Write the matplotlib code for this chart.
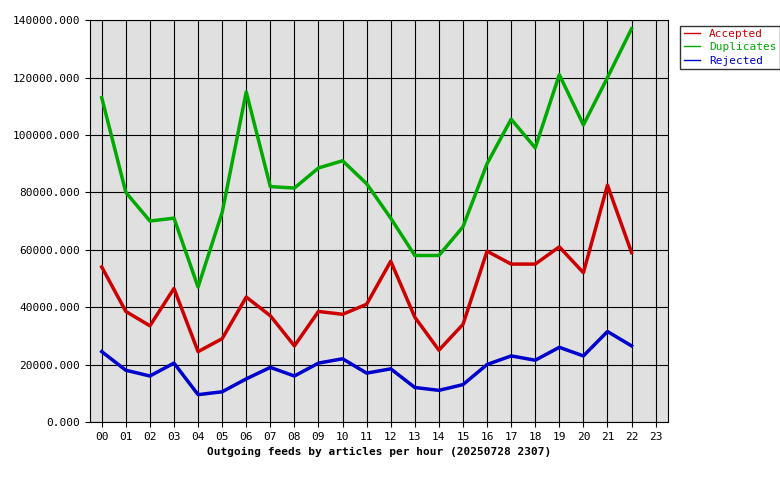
import matplotlib.pyplot as plt

hours = ['%02d' % h for h in range(24)]
duplicates = [113000, 80000, 70000, 71000, 47000, 73000, 115000, 82000, 81500, 88500, 91000, 83000,
              71000, 58000, 58000, 68000, 90000, 105500, 95500, 121000, 103500, 120000, 137000]
accepted = [54000, 38500, 33500, 46500, 24500, 29000, 43500, 37000, 26500, 38500, 37500, 41000,
            56000, 36500, 25000, 34000, 59500, 55000, 55000, 61000, 52000, 82500, 59000]
rejected = [24500, 18000, 16000, 20500, 9500, 10500, 15000, 19000, 16000, 20500, 22000, 17000,
            18500, 12000, 11000, 13000, 20000, 23000, 21500, 26000, 23000, 31500, 26500]

plt.rcParams['font.family'] = 'DejaVu Sans Mono'
fig = plt.figure(figsize=(7.8, 4.8), dpi=100)
ax = fig.add_axes([0.115, 0.121, 0.741, 0.837])
ax.set_facecolor('#e0e0e0')

x = range(len(accepted))
ax.plot(x, accepted, color='#cc0000', lw=2.5, label='Accepted')
ax.plot(x, duplicates, color='#00aa00', lw=2.5, label='Duplicates')
ax.plot(x, rejected, color='#0000cc', lw=2.5, label='Rejected')

ax.set_xlim(-0.5, 23.5)
ax.set_ylim(0, 140000)
ax.set_xticks(range(24))
ax.set_xticklabels(hours, fontsize=8)
ax.set_yticks(range(0, 140001, 20000))
ax.set_yticklabels(['%d.000' % v for v in range(0, 140001, 20000)], fontsize=8)
ax.grid(True, color='black', lw=0.8)
ax.set_axisbelow(True)
ax.set_xlabel('Outgoing feeds by articles per hour (20250728 2307)', fontsize=8, fontweight='bold')

leg = ax.legend(loc='upper left', bbox_to_anchor=(1.012, 1.0), fontsize=8, frameon=True,
                fancybox=False, edgecolor='black', handlelength=1.5, borderpad=0.3, labelspacing=0.3)
for t, c in zip(leg.get_texts(), ['#cc0000', '#00aa00', '#0000cc']):
    t.set_color(c)
for l in leg.get_lines():
    l.set_linewidth(1)

fig.savefig('out.png')
